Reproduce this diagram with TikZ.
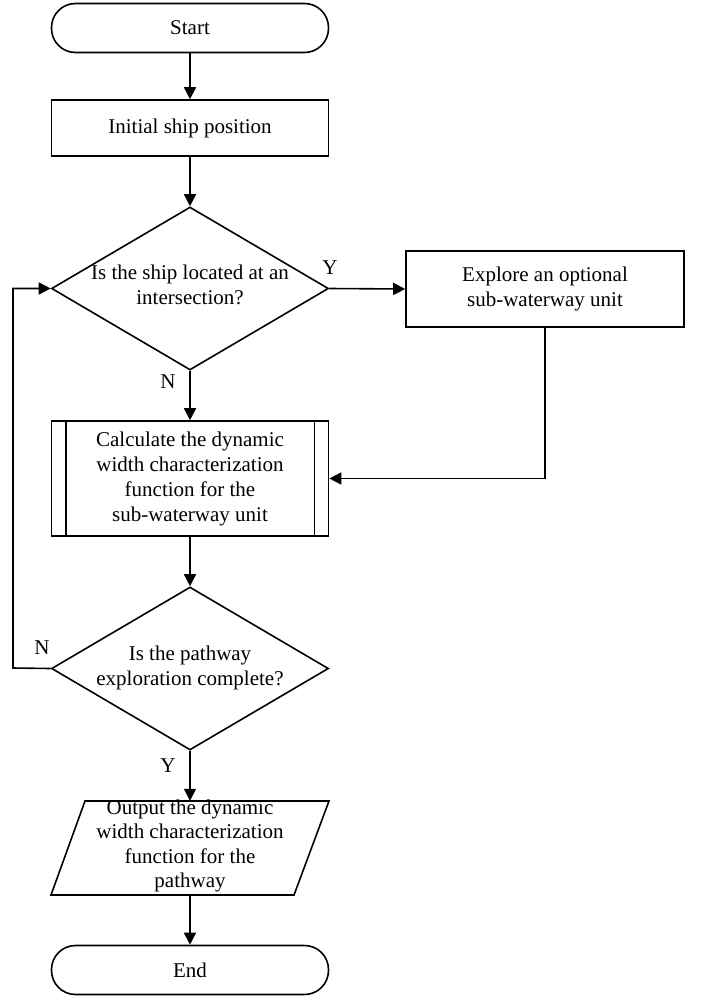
\documentclass[tikz,border=0pt]{standalone}
\usepackage{fontspec}
\setmainfont{Liberation Serif}
\usetikzlibrary{shapes.geometric,arrows.meta}
\begin{document}
\begin{tikzpicture}[x=1pt,y=-1pt,
  every node/.style={font=\fontsize{21}{25}\selectfont, align=center, inner sep=0pt},
  ln/.style={line width=1.6pt},
  arr/.style={ln,-{Triangle[length=12pt,width=12pt]}},
  term/.style={draw, ln, rounded corners=24pt, minimum width=277pt, minimum height=49pt},
  proc/.style={draw, ln, minimum width=277pt},
  dec/.style={draw, ln, diamond, minimum width=277pt, minimum height=163pt},
  lbl/.style={font=\fontsize{21}{25}\selectfont}]
\useasboundingbox (0,0) rectangle (702,998);
\node[term] (start) at (190,28) {Start};
\node[proc, minimum height=56pt] (init) at (190,128) {Initial ship position};
\node[dec] (d1) at (190,288.5) {};
\node at (190,285) {Is the ship located at an\\intersection?};
\node[proc, minimum width=278pt, minimum height=76pt] (expl) at (545,289) {Explore an optional\\sub-waterway unit};
\node[proc, minimum height=115pt] (calc) at (190,478.5) {Calculate the dynamic\\width characterization\\function for the\\sub-waterway unit};
\draw[ln] ([xshift=15pt]calc.north west) -- ([xshift=15pt]calc.south west);
\draw[ln] ([xshift=-15pt]calc.north east) -- ([xshift=-15pt]calc.south east);
\node[dec] (d2) at (190,668.5) {};
\node at (190,668) {Is the pathway\\exploration complete?};
\node[minimum width=244pt, minimum height=94pt] (out) at (190,848) {};
\draw[ln] (85,801) -- (329,801) -- (294,895) -- (51,895) -- cycle;
\node[font=\fontsize{21}{24.5}\selectfont] at (190,846) {Output the dynamic\\width characterization\\function for the\\pathway};
\node[term] (end) at (190,970) {End};
\coordinate (lp) at (13,668);
\draw[arr] (start) -- (init);
\draw[arr] (init) -- (d1);
\draw[arr] (d1.east) -- (expl.west);
\node[lbl] at (330,268) {Y};
\draw[arr] (d1.south) -- (calc.north);
\node[lbl] at (168,382) {N};
\draw[arr] (expl.south) |- (calc.east);
\draw[arr] (calc) -- (d2);
\draw[arr] (d2.west) -- (lp) |- (d1.west);
\node[lbl] at (42,648) {N};
\draw[arr] (d2.south) -- (out.north);
\node[lbl] at (168,766) {Y};
\draw[arr] (out.south) -- (end.north);
\end{tikzpicture}
\end{document}
